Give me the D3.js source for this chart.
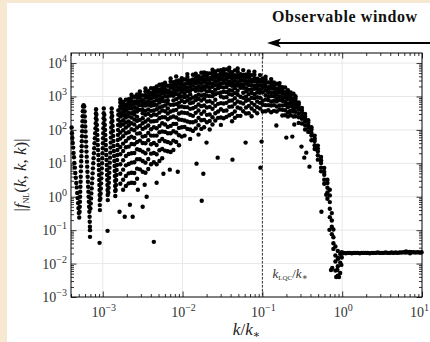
<!DOCTYPE html>
<html>
<head>
<meta charset="utf-8">
<script src="https://cdn.jsdelivr.net/npm/d3@7"></script>
<style>
  body { margin: 0; background: #f7e8d2; }
  svg { display: block; }
  text { font-family: "Liberation Serif", "DejaVu Serif", serif; }
</style>
</head>
<body>
<svg id="chart" width="430" height="342"></svg>
<script>
// all values are log10(k/k*) and log10|fNL|

// low-k spikes (V shaped legs)
var spikePts = [
  [-3.39,2.07],[-3.386,1.9],[-3.381,1.76],[-3.376,1.61],[-3.371,1.47],[-3.366,1.31],[-3.361,1.18],[-3.356,1.01],[-3.35,0.87],[-3.344,0.71],[-3.338,0.57],[-3.332,0.41],[-3.326,0.28],[-3.32,0.11],[-3.315,-0.04],[-3.31,-0.19],[-3.305,-0.34],[-3.3,-0.49],[-3.295,-0.62],
  [-3.29,-0.45],[-3.288,-0.3],[-3.286,-0.15],[-3.284,0.0],[-3.282,0.15],[-3.28,0.3],[-3.278,0.45],[-3.276,0.6],[-3.274,0.76],[-3.272,0.91],[-3.27,1.06],[-3.268,1.21],[-3.266,1.36],[-3.264,1.51],[-3.262,1.66],[-3.26,1.81],[-3.258,1.96],[-3.256,2.11],[-3.254,2.26],[-3.252,2.41],[-3.25,2.56],[-3.247,2.7],[-3.24,2.74],[-3.232,2.7],
  [-3.228,2.55],[-3.225,2.4],[-3.222,2.25],[-3.219,2.1],[-3.216,1.95],[-3.213,1.8],[-3.21,1.65],[-3.207,1.5],[-3.204,1.35],[-3.201,1.2],[-3.198,1.05],[-3.195,0.9],[-3.192,0.75],[-3.189,0.6],[-3.186,0.45],[-3.183,0.3],[-3.18,0.15],[-3.177,0.0],[-3.174,-0.15],[-3.171,-0.3],[-3.168,-0.45],[-3.165,-0.6],[-3.163,-0.75],[-3.161,-0.9],[-3.16,-1.0],[-3.16,-1.2],
  [-3.155,-0.35],[-3.151,-0.2],[-3.147,-0.05],[-3.143,0.1],[-3.139,0.25],[-3.135,0.4],[-3.131,0.55],[-3.127,0.7],[-3.123,0.85],[-3.119,1.0],[-3.115,1.15],[-3.111,1.3],[-3.107,1.45],[-3.103,1.6],[-3.099,1.75],[-3.095,1.9],[-3.091,2.05],[-3.088,2.2],[-3.086,2.35],[-3.085,2.5],[-3.084,2.62],
  [-3.08,2.45],[-3.077,2.3],[-3.074,2.15],[-3.071,2.0],[-3.068,1.85],[-3.065,1.7],[-3.062,1.55],[-3.059,1.4],[-3.056,1.25],[-3.053,1.1],[-3.05,0.95],[-3.048,0.8],[-3.046,0.65],[-3.044,0.5],[-3.042,0.35],[-3.04,0.2],[-3.039,0.05],[-3.038,-0.1],[-3.037,-0.25],[-3.036,-0.4],[-3.04,-1.38],
  [-3.03,-0.05],[-3.027,0.1],[-3.024,0.25],[-3.021,0.4],[-3.018,0.55],[-3.015,0.7],[-3.012,0.85],[-3.009,1.0],[-3.006,1.15],[-3.003,1.3],[-3.0,1.45],[-2.998,1.6],[-2.996,1.75],[-2.994,1.9],[-2.992,2.05],[-2.99,2.2],[-2.989,2.35],[-2.988,2.5],[-2.987,2.64],
  [-2.98,2.45],[-2.977,2.3],[-2.974,2.15],[-2.971,2.0],[-2.968,1.85],[-2.965,1.7],[-2.962,1.55],[-2.959,1.4],[-2.956,1.25],[-2.953,1.1],[-2.95,0.95],[-2.948,0.8],[-2.946,0.65],[-2.944,0.5],[-2.942,0.35],[-2.94,0.2],[-2.938,0.05],[-2.937,-0.1],[-2.94,-1.02],
  [-2.93,0.12],[-2.927,0.27],[-2.924,0.42],[-2.921,0.57],[-2.918,0.72],[-2.915,0.87],[-2.912,1.02],[-2.909,1.17],[-2.906,1.32],[-2.903,1.47],[-2.9,1.62],[-2.898,1.77],[-2.896,1.92],[-2.894,2.07],[-2.892,2.22],[-2.89,2.37],[-2.889,2.52],[-2.888,2.64],
  [-2.882,2.42],[-2.879,2.27],[-2.876,2.12],[-2.873,1.97],[-2.87,1.82],[-2.867,1.67],[-2.864,1.52],[-2.861,1.37],[-2.858,1.22],[-2.855,1.07],[-2.852,0.92],[-2.85,0.77],[-2.848,0.62],[-2.846,0.47],[-2.845,0.32],[-2.844,0.17],[-2.843,0.02],
  [-2.838,0.2],[-2.835,0.35],[-2.832,0.5],[-2.829,0.65],[-2.826,0.8],[-2.823,0.95],[-2.82,1.1],[-2.818,1.25],[-2.816,1.4],[-2.814,1.55],[-2.812,1.7],[-2.81,1.85],[-2.809,2.0],[-2.808,2.15],[-2.807,2.3],[-2.806,2.45],[-2.805,2.58]
];

// the dense cloud, one column per k
var cloudCols = [
  [-2.78,[2.91,2.82,2.71,2.63,2.5,2.4,2.24,2.12,1.92,1.74,1.49,1.27,0.97,0.69,0.39]],
  [-2.745,[2.84,2.75,2.65,2.54,2.43,2.29,2.16,1.99,1.81,1.59,1.37,1.09,0.81,0.51,0.21]],
  [-2.71,[2.9,2.76,2.7,2.59,2.47,2.37,2.22,2.07,1.9,1.67,1.48,1.22,0.94,0.62,0.32]],
  [-2.675,[2.92,2.83,2.72,2.64,2.51,2.41,2.25,2.13,1.93,1.75,1.5,1.28,0.98,0.7,0.4]],
  [-2.64,[3.05,2.96,2.86,2.75,2.64,2.5,2.37,2.2,2.02,1.8,1.58,1.3,1.02,0.72,0.42]],
  [-2.605,[2.99,2.85,2.79,2.68,2.56,2.46,2.31,2.16,1.99,1.76,1.57,1.31,1.03,0.71,0.41]],
  [-2.57,[3.06,2.97,2.86,2.78,2.65,2.55,2.39,2.27,2.07,1.89,1.64,1.42,1.12,0.84,0.54]],
  [-2.535,[3.15,3.06,2.96,2.85,2.74,2.6,2.3,2.12,1.9,1.68,1.4,1.12,0.82]],
  [-2.5,[3.03,2.89,2.83,2.72,2.6,2.5,2.35,2.2,2.03,1.8,1.61,1.35,1.07,0.75]],
  [-2.465,[3.24,3.15,3.04,2.96,2.83,2.73,2.57,2.45,2.25,2.07,1.82,1.6,1.3,1.02,0.72]],
  [-2.43,[3.16,3.07,2.97,2.86,2.75,2.61,2.48,2.31,2.13,1.91,1.69,1.41,1.13,0.83]],
  [-2.395,[3.25,3.11,3.05,2.94,2.82,2.72,2.57,2.42,2.25,2.02,1.83,1.57,1.29,0.97]],
  [-2.36,[3.25,3.16,3.05,2.97,2.84,2.74,2.58,2.46,2.26,2.08,1.83,1.61,1.31,1.03]],
  [-2.325,[3.3,3.21,3.11,3.0,2.89,2.75,2.62,2.45,2.27,2.05,1.83,1.55,1.27,0.97]],
  [-2.29,[3.35,3.21,3.15,3.04,2.92,2.82,2.67,2.52,2.35,2.12,1.93,1.67,1.39,1.07]],
  [-2.255,[3.37,3.28,3.17,3.09,2.96,2.86,2.7,2.58,2.38,2.2,1.95,1.73,1.43,1.15]],
  [-2.22,[3.41,3.32,3.22,3.11,3.0,2.86,2.73,2.56,2.38,2.16,1.94,1.66,1.38]],
  [-2.185,[3.32,3.18,3.12,3.01,2.89,2.79,2.64,2.49,2.32,2.09,1.9,1.64,1.36]],
  [-2.15,[3.54,3.45,3.34,3.26,3.13,3.03,2.75,2.55,2.37,2.12,1.9,1.6,1.34]],
  [-2.115,[3.43,3.34,3.24,3.13,3.02,2.88,2.75,2.58,2.4,2.18,1.96,1.68,1.4]],
  [-2.08,[3.6,3.46,3.4,3.29,3.17,3.07,2.92,2.77,2.6,2.37,2.18,1.92,1.64]],
  [-2.045,[3.48,3.39,3.28,3.2,3.07,2.97,2.81,2.69,2.49,2.31,2.06,1.84,1.54]],
  [-2.01,[3.55,3.46,3.36,3.25,3.14,3.0,2.87,2.7,2.52,2.3,2.08,1.8]],
  [-1.975,[3.51,3.37,3.31,3.2,3.08,2.98,2.83,2.68,2.51,2.28,2.09,1.83]],
  [-1.94,[3.67,3.58,3.47,3.39,3.26,3.16,3.0,2.88,2.68,2.5,2.25,2.03]],
  [-1.905,[3.48,3.39,3.29,3.18,3.07,2.93,2.8,2.63,2.45,2.23,2.01,1.73]],
  [-1.87,[3.65,3.51,3.45,3.34,3.22,2.97,2.82,2.65,2.42,2.23,1.97]],
  [-1.835,[3.68,3.59,3.48,3.4,3.27,3.17,3.01,2.89,2.69,2.51,2.26,2.04]],
  [-1.8,[3.61,3.52,3.42,3.31,3.2,3.06,2.93,2.76,2.58,2.36,2.14,1.86]],
  [-1.765,[3.71,3.57,3.51,3.4,3.28,3.18,3.03,2.88,2.71,2.48,2.29,2.03]],
  [-1.73,[3.72,3.63,3.52,3.44,3.31,3.21,3.05,2.93,2.73,2.55,2.3,2.08]],
  [-1.695,[3.7,3.61,3.51,3.4,3.29,3.15,3.02,2.85,2.67,2.45,2.23]],
  [-1.66,[3.69,3.55,3.49,3.38,3.26,3.16,3.01,2.86,2.69,2.46,2.27,2.01]],
  [-1.625,[3.8,3.71,3.6,3.52,3.39,3.29,3.13,3.01,2.81,2.63,2.38,2.16]],
  [-1.59,[3.75,3.66,3.56,3.45,3.34,3.2,3.07,2.9,2.72,2.5,2.28]],
  [-1.555,[3.78,3.64,3.58,3.47,3.35,3.25,3.1,2.78,2.55,2.36]],
  [-1.52,[3.79,3.7,3.59,3.51,3.38,3.28,3.12,3.0,2.8,2.62,2.37,2.15]],
  [-1.485,[3.82,3.73,3.63,3.52,3.41,3.27,3.14,2.97,2.79,2.57,2.35]],
  [-1.45,[3.81,3.67,3.61,3.5,3.38,3.28,3.13,2.98,2.81,2.58,2.39]],
  [-1.415,[3.86,3.77,3.66,3.58,3.45,3.35,3.19,3.07,2.87,2.69,2.44]],
  [-1.38,[3.73,3.64,3.54,3.43,3.32,3.18,3.05,2.88,2.7,2.48,2.26]],
  [-1.345,[3.78,3.64,3.58,3.47,3.35,3.25,3.1,2.95,2.78,2.55,2.36]],
  [-1.31,[3.84,3.75,3.64,3.56,3.43,3.33,3.17,3.05,2.85,2.67,2.42]],
  [-1.275,[3.67,3.58,3.48,3.37,3.26,2.99,2.82,2.64,2.42]],
  [-1.24,[3.79,3.65,3.59,3.48,3.36,3.26,3.11,2.96,2.79,2.56]],
  [-1.205,[3.66,3.57,3.46,3.38,3.25,3.15,2.99,2.87,2.67,2.49]],
  [-1.17,[3.75,3.66,3.56,3.45,3.34,3.2,3.07,2.9,2.72,2.5]],
  [-1.135,[3.64,3.5,3.44,3.33,3.21,3.11,2.96,2.81,2.64,2.41]],
  [-1.1,[3.74,3.65,3.54,3.46,3.33,3.23,3.07,2.95,2.75,2.57]],
  [-1.065,[3.53,3.44,3.34,3.23,3.12,2.98,2.85,2.68,2.5]],
  [-1.03,[3.64,3.5,3.44,3.33,3.21,3.11,2.96,2.81,2.64]],
  [-0.995,[3.54,3.45,3.34,3.26,3.13,2.87,2.75,2.55]],
  [-0.96,[3.59,3.5,3.4,3.29,3.18,3.04,2.91,2.74,2.56]],
  [-0.925,[3.42,3.28,3.22,3.11,2.99,2.89,2.74,2.59]],
  [-0.89,[3.52,3.43,3.32,3.24,3.11,3.01,2.85,2.73,2.53]],
  [-0.855,[3.42,3.33,3.23,3.12,3.01,2.87,2.74,2.57]],
  [-0.82,[3.38,3.24,3.18,3.07,2.95,2.85,2.7,2.55]],
  [-0.785,[3.4,3.31,3.2,3.12,2.99,2.89,2.73,2.61]],
  [-0.75,[3.28,3.19,3.09,2.98,2.87,2.73,2.6,2.43]],
  [-0.715,[3.27,3.13,3.07,2.96,2.84,2.74,2.59,2.44]],
  [-0.68,[3.19,3.1,2.99,2.91,2.78,2.68,2.52,2.4]],
  [-0.645,[3.12,3.03,2.93,2.82,2.71,2.57,2.44]],
  [-0.61,[3.08,2.94,2.88,2.77,2.65,2.55,2.4]]
];

// steep fall towards k = k*
var fallCols = [
  [-0.585,[3.01,2.94,2.86,2.77,2.66,2.54,2.41]],
  [-0.545,[2.82,2.77,2.68,2.61,2.49,2.38,2.21]],
  [-0.505,[2.66,2.58,2.51,2.41,2.33,2.19]],
  [-0.465,[2.48,2.41,2.35,2.26,2.14,2.01]],
  [-0.425,[2.29,2.22,2.14,2.06,1.94]],
  [-0.385,[2.08,2.01,1.91,1.83,1.69]],
  [-0.345,[1.83,1.74,1.67,1.54,1.43]],
  [-0.305,[1.53,1.44,1.36,1.24,1.11]],
  [-0.265,[1.19,1.09,1.01,0.87,0.76]],
  [-0.225,[0.86,0.74,0.66,0.51,0.39]],
  [-0.185,[0.51,0.41,0.27,0.13,-0.06]],
  [-0.155,[0.21,0.04,-0.16,-0.36,-0.61]],
  [-0.13,[-0.49,-0.71,-0.9,-1.12]],
  [-0.11,[-0.98,-1.21,-1.39,-1.56]],
  [-0.085,[-1.49,-1.76,-1.94,-2.21]],
  [-0.055,[-1.62,-1.86,-2.08,-2.36]],
  [-0.025,[-1.71,-1.97,-2.28]],
  [-0.005,[-1.66,-1.82]]
];

// isolated points below the cloud
var strayPts = [
  [-2.79,-0.45],[-2.725,-0.6],[-2.66,-0.24],[-2.625,-0.6],[-2.56,0.21],[-2.5,-0.3],[-2.475,0.36],[-2.45,0.0],
  [-2.36,-1.35],[-2.325,0.42],[-2.24,0.69],[-2.16,0.81],[-2.06,0.75],[-1.825,0.99],[-1.76,-0.12],[-1.74,0.69],
  [-1.7,1.62],[-1.56,1.17],[-1.375,1.11],[-1.21,1.62],[-1.025,0.87],[-1.01,1.65],[-0.825,2.13],[-0.7,1.77],
  [-0.66,2.55],[-0.625,1.8],[-0.6,2.16],[-0.51,1.5],[-0.475,1.17],[-0.45,1.32],[-0.41,0.9],[-0.26,-0.45],
  [-0.2,0.06],[-0.16,-0.99],[-0.14,-2.19],[-0.125,-2.13],[-0.075,-2.4],[-0.06,-2.19],[-0.05,-1.83],[-0.04,-2.4],[-0.01,-2.04]
];

// flat tail for k > k*
var plateauK = [0.0,0.02,0.045,0.07,0.095,0.12,0.145,0.17,0.195,0.22,0.245,0.27,0.295,0.32,0.345,0.37,0.395,0.42,0.445,0.47,0.495,
  0.52,0.545,0.57,0.595,0.62,0.645,0.67,0.695,0.72,0.745,0.77,0.795,0.8,0.82,0.845,0.85,0.87,0.895,0.92,0.945,0.97,0.995];
var plateauF = [-1.7,-1.68,-1.69,-1.68,-1.68,-1.69,-1.68,-1.68,-1.68,-1.69,-1.68,-1.68,-1.68,-1.68,-1.69,-1.68,-1.68,-1.68,-1.67,-1.68,-1.68,
  -1.68,-1.67,-1.68,-1.68,-1.67,-1.68,-1.67,-1.68,-1.67,-1.67,-1.66,-1.67,-1.64,-1.66,-1.65,-1.69,-1.66,-1.66,-1.67,-1.66,-1.67,-1.66];

var xMajor = [1e-3, 1e-2, 1e-1, 1, 10];
var xLabels = ["−3", "−2", "−1", "0", "1"];
var yMajor = [1e-3, 1e-2, 1e-1, 1, 10, 100, 1e3, 1e4];
var yLabels = ["−3", "−2", "−1", "0", "1", "2", "3", "4"];
var kLQC = 0.1;

var margin = {top: 53, right: 8, bottom: 45, left: 71},
    width = 430 - margin.left - margin.right,
    height = 342 - margin.top - margin.bottom;

var svg = d3.select("#chart");

// beige page with white panel
svg.append("rect").attr("width", 430).attr("height", 342).attr("fill", "#f7e8d2");
svg.append("rect").attr("x", 7).attr("y", 3).attr("width", 423).attr("height", 339).attr("fill", "#fff");

var x = d3.scaleLog().domain([4e-4, 10]).range([margin.left, margin.left + width]);
var y = d3.scaleLog().domain([1e-3, 2e4]).range([margin.top + height, margin.top]);

// minor ticks 2..9 per decade
function minors(lo, hi) {
  var out = [];
  for (var e = Math.floor(Math.log10(lo)); e < Math.log10(hi); e++) {
    for (var m = 2; m < 10; m++) {
      var v = m * Math.pow(10, e);
      if (v >= lo && v < hi) out.push(v);
    }
  }
  return out;
}
var xMinor = minors(4e-4, 10);
var yMinor = minors(1e-3, 2e4);

// grid
var grid = svg.append("g").attr("stroke", "#e8e8e8").attr("stroke-width", 1);
grid.selectAll(".gx").data(xMajor.slice(0, 4)).join("line")
  .attr("x1", d => x(d)).attr("x2", d => x(d))
  .attr("y1", margin.top).attr("y2", margin.top + height);
grid.selectAll(".gy").data(yMajor.slice(1)).join("line")
  .attr("y1", d => y(d)).attr("y2", d => y(d))
  .attr("x1", margin.left).attr("x2", margin.left + width);

// k_LQC marker
svg.append("line")
  .attr("x1", x(kLQC)).attr("x2", x(kLQC))
  .attr("y1", margin.top).attr("y2", margin.top + height)
  .attr("stroke", "#333").attr("stroke-width", 1).attr("stroke-dasharray", "2.5,1.5");

// points
var pts = spikePts.slice();
cloudCols.concat(fallCols).forEach(function(c) {
  c[1].forEach(function(f) { pts.push([c[0], f]); });
});
strayPts.forEach(function(p) { pts.push(p); });
plateauK.forEach(function(k, i) { pts.push([k, plateauF[i]]); });

svg.append("g").selectAll("circle")
  .data(pts)
  .join("circle")
    .attr("cx", d => x(Math.pow(10, d[0])))
    .attr("cy", d => y(Math.pow(10, d[1])))
    .attr("r", 2.2)
    .attr("fill", "#000");

// inward ticks on all four sides
function addAxis(axis, tx, ty) {
  var g = svg.append("g").attr("transform", "translate(" + tx + "," + ty + ")").call(axis);
  g.select(".domain").remove();
  g.selectAll("line").attr("stroke", "#000").attr("stroke-width", 0.8);
  return g;
}
[[xMajor, 5.5], [xMinor, 3]].forEach(function(t) {
  addAxis(d3.axisBottom(x).tickValues(t[0]).tickSize(-t[1]).tickFormat(""), 0, margin.top + height);
  addAxis(d3.axisTop(x).tickValues(t[0]).tickSize(-t[1]).tickFormat(""), 0, margin.top);
});
[[yMajor, 5.5], [yMinor, 3]].forEach(function(t) {
  addAxis(d3.axisLeft(y).tickValues(t[0]).tickSize(-t[1]).tickFormat(""), margin.left, 0);
  addAxis(d3.axisRight(y).tickValues(t[0]).tickSize(-t[1]).tickFormat(""), margin.left + width, 0);
});

// frame
svg.append("rect")
  .attr("x", margin.left).attr("y", margin.top)
  .attr("width", width).attr("height", height)
  .attr("fill", "none").attr("stroke", "#000").attr("stroke-width", 1);

// tick labels like 10^-3
function powLabel(sel, exp) {
  sel.append("tspan").text("10");
  sel.append("tspan").attr("dy", -6).attr("font-size", 10).text(exp);
}
yMajor.forEach(function(v, i) {
  var t = svg.append("text")
    .attr("x", margin.left - 4).attr("y", y(v) + 5)
    .attr("text-anchor", "end").attr("font-size", 14).attr("fill", "#333");
  powLabel(t, yLabels[i]);
});
xMajor.forEach(function(v, i) {
  var last = i === xMajor.length - 1;
  var t = svg.append("text")
    .attr("x", last ? 429 : x(v) + 1).attr("y", 317)
    .attr("text-anchor", last ? "end" : "middle").attr("font-size", 14).attr("fill", "#333");
  powLabel(t, xLabels[i]);
});

// axis titles
var xt = svg.append("text")
  .attr("x", margin.left + width / 2).attr("y", 335)
  .attr("text-anchor", "middle").attr("font-size", 17).attr("fill", "#222");
xt.append("tspan").attr("font-style", "italic").text("k");
xt.append("tspan").text("/");
xt.append("tspan").attr("font-style", "italic").text("k");
xt.append("tspan").attr("font-size", 11).attr("dy", 3).text("∗");

var yt = svg.append("text")
  .attr("transform", "translate(26," + (margin.top + height / 2) + ") rotate(-90)")
  .attr("text-anchor", "middle").attr("font-size", 17).attr("fill", "#222");
yt.append("tspan").text("|");
yt.append("tspan").attr("font-style", "italic").text("f");
yt.append("tspan").attr("font-size", 8).attr("dy", 3).text("NL");
yt.append("tspan").attr("dy", -3).text("(");
yt.append("tspan").attr("font-style", "italic").text("k");
yt.append("tspan").text(", ");
yt.append("tspan").attr("font-style", "italic").text("k");
yt.append("tspan").text(", ");
yt.append("tspan").attr("font-style", "italic").text("k");
yt.append("tspan").text(")|");

// k_LQC/k* label
var lq = svg.append("text")
  .attr("x", x(kLQC) + 10).attr("y", 278)
  .attr("font-size", 13).attr("fill", "#333");
lq.append("tspan").attr("font-style", "italic").text("k");
lq.append("tspan").attr("font-size", 7).attr("dy", 2).text("LQC");
lq.append("tspan").attr("dy", -2).text("/");
lq.append("tspan").attr("font-style", "italic").text("k");
lq.append("tspan").attr("font-size", 9).attr("dy", 2).text("∗");

// observable window arrow
svg.append("text")
  .attr("x", 272).attr("y", 22)
  .attr("font-size", 16).attr("letter-spacing", 0.6).attr("font-weight", "bold").attr("fill", "#111")
  .text("Observable window");
svg.append("line")
  .attr("x1", 432).attr("x2", 276).attr("y1", 43).attr("y2", 43)
  .attr("stroke", "#000").attr("stroke-width", 2.2);
svg.append("path")
  .attr("d", "M267,43 L281,38.6 L278,43 L281,47.4 Z")
  .attr("fill", "#000");
</script>
</body>
</html>
